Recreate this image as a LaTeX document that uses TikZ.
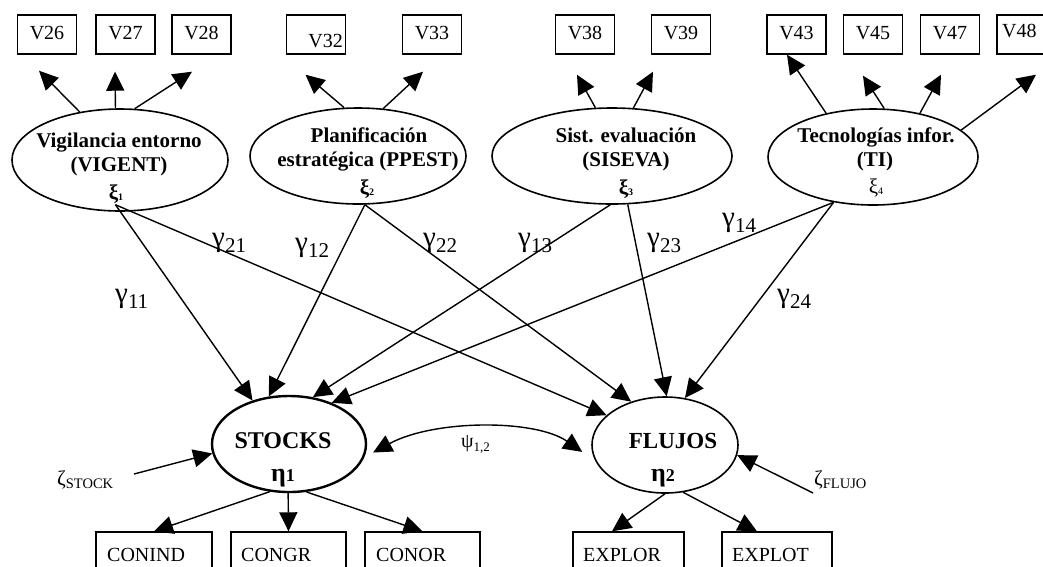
\documentclass[tikz,border=0pt]{standalone}
\usepackage{fontspec}
\setmainfont{Liberation Serif}
\usetikzlibrary{arrows.meta,shapes.geometric}
\tikzset{
 arr/.style={-{Triangle[length=19pt,width=18pt]}, line width=1.4pt},
 obsbox/.style={draw, line width=1.4pt, minimum width=59pt, minimum height=39pt, inner sep=0pt, font=\fontsize{20}{24}\selectfont, text depth=4pt},
 lowbox/.style={draw, line width=1.4pt, minimum height=46pt, inner sep=0pt},
 lat/.style={draw, ellipse, line width=1.6pt, inner sep=0pt},
 lattxt/.style={font=\fontsize{21}{24}\selectfont\bfseries, anchor=base, inner sep=0pt},
 boxtxt/.style={font=\fontsize{20}{24}\selectfont, inner sep=0pt},
 lbl/.style={anchor=base west, inner sep=0pt, font=\fontsize{21}{21}\selectfont},
 xi/.style={anchor=base, inner sep=0pt, font=\fontsize{21}{21}\selectfont\bfseries},
 eta/.style={anchor=base, inner sep=0pt, font=\fontsize{24}{24}\selectfont\bfseries},
}
\newcommand\gam[1]{\raisebox{6pt}{\fontsize{29}{29}\selectfont γ}#1}
\newcommand\xisub[1]{\raisebox{-1pt}{\fontsize{10}{10}\selectfont #1}}
\begin{document}
\begin{tikzpicture}[x=1pt,y=-1pt]
\clip (0,0) rectangle (1043,566);
\fill[white] (0,0) rectangle (1043,566);
% top boxes
\node[obsbox] (v26) at (47,34.5) {V26};
\node[obsbox] (v27) at (125.5,34.5) {V27};
\node[obsbox] (v28) at (201.5,34.5) {V28};
\node[obsbox] (v32) at (316,34.5) {};
\node[boxtxt, anchor=base east] (v32t) at (343,47) {V32};
\node[obsbox] (v33) at (432,34.5) {V33};
\node[obsbox] (v38) at (585,34.5) {V38};
\node[obsbox] (v39) at (681,34.5) {V39};
\node[obsbox] (v43) at (796.5,34.5) {V43};
\node[obsbox] (v45) at (873,34.5) {V45};
\node[obsbox] (v47) at (950,34.5) {V47};
\node[obsbox] (v48) at (1026.5,34.5) {};
\node[boxtxt, anchor=base west] (v48t) at (1002,37) {V48};
% latent exogenous
\node[lat, minimum width=216pt, minimum height=102pt] (vig) at (120,160) {};
\node[lat, minimum width=216pt, minimum height=96pt] (plan) at (358,156) {};
\node[lat, minimum width=240pt, minimum height=96pt] (sist) at (612,156) {};
\node[lat, minimum width=210pt, minimum height=96pt] (ti) at (873,157) {};
\node[lattxt] (vigt1) at (119,147) {Vigilancia entorno};
\node[lattxt] (vigt2) at (119,171) {(VIGENT)};
\node[xi] (xi1) at (116,199) {ξ\xisub{1}};
\node[lattxt] (plant1) at (369,142) {Planificación};
\node[lattxt] (plant2) at (368,166) {estratégica (PPEST)};
\node[xi] (xi2) at (367,194) {ξ\xisub{2}};
\node[lattxt] (sistt1) at (626,142) {Sist. evaluación};
\node[lattxt] (sistt2) at (626,166) {(SISEVA)};
\node[xi] (xi3) at (626,194) {ξ\xisub{3}};
\node[lattxt] (tit1) at (876,142) {Tecnologías infor.};
\node[lattxt] (tit2) at (875,166) {(TI)};
\node[xi, font=\fontsize{21}{21}\selectfont] (xi4) at (876,193) {ξ\xisub{4}};
% latent endogenous
\node[draw, ellipse, line width=2.4pt, inner sep=0pt, minimum width=154pt, minimum height=96pt] (stocks) at (289,444) {};
\node[lat, minimum width=146pt, minimum height=96pt] (flujos) at (665,445) {};
\node[eta] (stockst) at (283,448) {STOCKS};
\node[eta, font=\fontsize{23}{23}\selectfont\bfseries] (flujost) at (673,448) {FLUJOS};
\node[eta, font=\fontsize{26}{26}\selectfont\bfseries] (eta1) at (283,481) {η{\fontsize{18}{18}\selectfont 1}};
\node[eta, font=\fontsize{26}{26}\selectfont\bfseries] (eta2) at (663,481) {η{\fontsize{18}{18}\selectfont 2}};
% bottom boxes
\node[lowbox, minimum width=116pt] (conind) at (154,555) {};
\node[lowbox, minimum width=115pt] (congr) at (288.5,555) {};
\node[lowbox, minimum width=115pt] (conor) at (422.5,555) {};
\node[lowbox, minimum width=111pt] (explor) at (628.5,555) {};
\node[lowbox, minimum width=110pt] (explot) at (777,555) {};
\node[boxtxt, anchor=base west] (conindt) at (107,561) {CONIND};
\node[boxtxt, anchor=base west] (congrt) at (241,561) {CONGR};
\node[boxtxt, anchor=base west] (conort) at (376,561) {CONOR};
\node[boxtxt, anchor=base west] (explort) at (583,561) {EXPLOR};
\node[boxtxt, anchor=base west] (explott) at (732,561) {EXPLOT};
% labels
\node[lbl] (g11) at (115,308) {\gam{11}};
\node[lbl] (g21) at (212,252) {\gam{21}};
\node[lbl] (g12) at (295,257) {\gam{12}};
\node[lbl] (g22) at (423,252) {\gam{22}};
\node[lbl] (g13) at (518,252) {\gam{13}};
\node[lbl] (g23) at (647,252) {\gam{23}};
\node[lbl] (g14) at (722,232) {\gam{14}};
\node[lbl] (g24) at (777,308) {\gam{24}};
\node[lbl] (psi) at (461,451) {\raisebox{4pt}{\fontsize{20}{20}\selectfont ψ}{\fontsize{13}{13}\selectfont 1,2}};
\node[lbl] (zs) at (57,488) {\raisebox{3pt}{\fontsize{21}{21}\selectfont ζ}{\fontsize{14.5}{14.5}\selectfont STOCK}};
\node[lbl] (zf) at (814,488) {\raisebox{3pt}{\fontsize{21}{21}\selectfont ζ}{\fontsize{14.5}{14.5}\selectfont FLUJO}};
% measurement arrows
\draw[arr] (vig.130) -- ([xshift=-8pt,yshift=-16pt]v26.south);
\draw[arr] (vig.95) -- ([xshift=-10.5pt,yshift=-17pt]v27.south);
\draw[arr] (vig.74) -- ([xshift=-9.5pt,yshift=-17pt]v28.south);
\draw[arr] (plan.106) -- ([xshift=-10.5pt,yshift=-20pt]v32.south);
\draw[arr] (plan.62) -- ([xshift=-9pt,yshift=-17pt]v33.south);
\draw[arr] (sist.109) -- ([xshift=-8pt,yshift=-20pt]v38.south);
\draw[arr] (sist.66) -- ([xshift=-28pt,yshift=-17pt]v39.south);
\draw[arr] (ti.137) -- ([xshift=-9.5pt]v43.south);
\draw[arr] (ti.77) -- ([xshift=-10pt,yshift=-21pt]v45.south);
\draw[arr] (ti.43) -- ([xshift=-9pt,yshift=-20pt]v47.south);
\draw[arr] (ti.17.5) -- ([xshift=9.5pt,yshift=-20pt]v48.south);
% structural arrows
\draw[arr] ([yshift=7pt]vig.265) -- (stocks.130);
\draw[arr] ([yshift=7pt]vig.265) -- (flujos.153);
\draw[arr] (plan.278) -- (stocks.113);
\draw[arr] (plan.278) -- (flujos.128);
\draw[arr] (sist.268) -- (stocks.63);
\draw[arr] (sist.288) -- (flujos.88);
\draw[arr] (ti.229.5) -- (stocks.44);
\draw[arr] (ti.229.5) -- (flujos.67);
% bottom measurement
\draw[arr] (stocks.248) -- (conind.north);
\draw[arr] (stocks.269) -- (congr.north);
\draw[arr] (stocks.290) -- (conor.north);
\draw[arr] (flujos.south) -- ([xshift=-16.5pt]explor.north);
\draw[arr] (flujos.291) -- ([xshift=-20pt]explot.north);
% disturbances
\coordinate (zsA) at (134,474);
\coordinate (zfA) at (813,493);
\draw[arr] (zsA) -- (stocks.187);
\draw[arr] (zfA) -- (flujos.352);
% covariance
\draw[{Triangle[length=19pt,width=18pt]}-{Triangle[length=19pt,width=18pt]}, line width=1.4pt, shorten <=10pt, shorten >=16pt] (stocks.350) .. controls +(70,-38) and +(-60,-42) .. (flujos.193);
\end{tikzpicture}
\end{document}
